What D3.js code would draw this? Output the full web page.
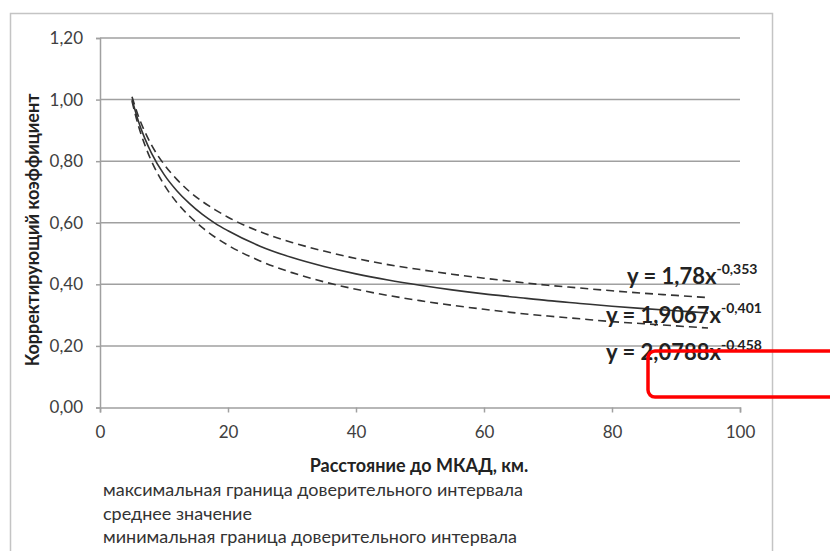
<!DOCTYPE html>
<html><head><meta charset="utf-8">
<script src="https://cdn.jsdelivr.net/npm/d3@7"></script>
<style>body{margin:0;background:#fff}svg{display:block}text{font-family:Lato,"Open Sans",sans-serif}</style>
</head><body><svg id="c" width="830" height="551"></svg>
<script>
const distances = [5,6,7,8,10,12,14,16,18,20,25,30,35,40,45,50,55,60,65,70,75,80,85,90,95];
const maxBound = [1.009,0.946,0.896,0.854,0.790,0.741,0.701,0.669,0.642,0.618,0.571,0.536,0.508,0.484,0.464,0.448,0.433,0.420,0.408,0.397,0.388,0.379,0.371,0.364,0.357];
const meanValue = [1.000,0.930,0.874,0.828,0.757,0.704,0.662,0.627,0.598,0.574,0.524,0.487,0.458,0.434,0.414,0.397,0.382,0.369,0.358,0.347,0.338,0.329,0.321,0.314,0.307];
const minBound = [0.995,0.915,0.853,0.802,0.724,0.666,0.621,0.584,0.553,0.527,0.476,0.438,0.408,0.384,0.364,0.347,0.332,0.319,0.307,0.297,0.288,0.279,0.272,0.265,0.258];
const xTicks = [0,20,40,60,80,100];
const yTicks = [0,0.2,0.4,0.6,0.8,1.0,1.2];
const equations = [
  {base:"y = 1,78x", exp:"-0,353"},
  {base:"y = 1,9067x", exp:"-0,401"},
  {base:"y = 2,0788x", exp:"-0,458"}
];
const legendItems = ["максимальная граница доверительного интервала","среднее значение","минимальная граница доверительного интервала"];
const xTitle = "Расстояние до МКАД, км.";
const yTitle = "Корректирующий коэффициент";

const svg = d3.select("#c");
const x = d3.scaleLinear().domain([0,100]).range([100,740]);
const y = d3.scaleLinear().domain([0,1.2]).range([407.5,38]);
const fmt = d => d3.format(".2f")(d).replace(".", ",");

// outer frame
svg.append("rect").attr("x",10.5).attr("y",13.5).attr("width",762).attr("height",560)
  .attr("fill","none").attr("stroke","#c4c4c4").attr("stroke-width",1.5);

// gridlines
svg.append("g").selectAll("line").data(yTicks.filter(d=>d>0)).join("line")
  .attr("x1",x(0)).attr("x2",x(100)).attr("y1",d=>y(d)).attr("y2",d=>y(d))
  .attr("stroke","#a0a0a0").attr("stroke-width",1.5);

// y axis
const yAxis = svg.append("g").attr("transform",`translate(${x(0)},0)`)
  .call(d3.axisLeft(y).tickValues(yTicks).tickFormat(fmt).tickSize(4).tickPadding(13));
yAxis.select(".domain").attr("stroke","#a0a0a0").attr("stroke-width",1.5);
yAxis.selectAll(".tick line").attr("stroke","#a0a0a0").attr("stroke-width",1.5);
yAxis.selectAll("text").attr("font-size",17).attr("fill","#404040").attr("font-family","Lato");

// x axis
const xAxis = svg.append("g").attr("transform",`translate(0,${y(0)})`)
  .call(d3.axisBottom(x).tickValues(xTicks).tickSize(5).tickPadding(13));
xAxis.select(".domain").attr("stroke","#a0a0a0").attr("stroke-width",1.5);
xAxis.selectAll(".tick line").attr("stroke","#a0a0a0").attr("stroke-width",1.5);
xAxis.selectAll("text").attr("font-size",17).attr("fill","#404040").attr("font-family","Lato");

// curves
const line = (vals) => d3.line().x((d,i)=>x(distances[i])).y(d=>y(d)).curve(d3.curveMonotoneX)(vals);
svg.append("path").attr("d",line(maxBound)).attr("fill","none").attr("stroke","#333").attr("stroke-width",1.6).attr("stroke-dasharray","8,5");
svg.append("path").attr("d",line(meanValue)).attr("fill","none").attr("stroke","#333").attr("stroke-width",1.6);
svg.append("path").attr("d",line(minBound)).attr("fill","none").attr("stroke","#333").attr("stroke-width",1.6).attr("stroke-dasharray","8,5");

// equation labels
const eqPos = [[627,284],[606,323],[606,360]];
equations.forEach((e,i)=>{
  const t = svg.append("text").attr("x",eqPos[i][0]).attr("y",eqPos[i][1])
    .attr("font-size",22).attr("font-weight","bold").attr("fill","#222");
  t.append("tspan").text(e.base);
  t.append("tspan").attr("dy",-10).attr("font-size",14).text(e.exp);
});

// axis titles
svg.append("text").attr("x",419).attr("y",472).attr("text-anchor","middle")
  .attr("font-size",18).attr("font-weight","bold").attr("fill","#222").text(xTitle);
svg.append("text").attr("transform","translate(39,230) rotate(-90)").attr("text-anchor","middle")
  .attr("font-size",18).attr("font-weight","bold").attr("fill","#222").text(yTitle);

// legend text
svg.append("g").selectAll("text").data(legendItems).join("text")
  .attr("x",103).attr("y",(d,i)=>496+i*23.5)
  .attr("font-size",18).attr("fill","#333").text(d=>d);

// red rectangle annotation
svg.append("rect").attr("x",648).attr("y",351).attr("width",220).attr("height",46).attr("rx",7)
  .attr("fill","none").attr("stroke","#ff0000").attr("stroke-width",3.5);
</script></body></html>
